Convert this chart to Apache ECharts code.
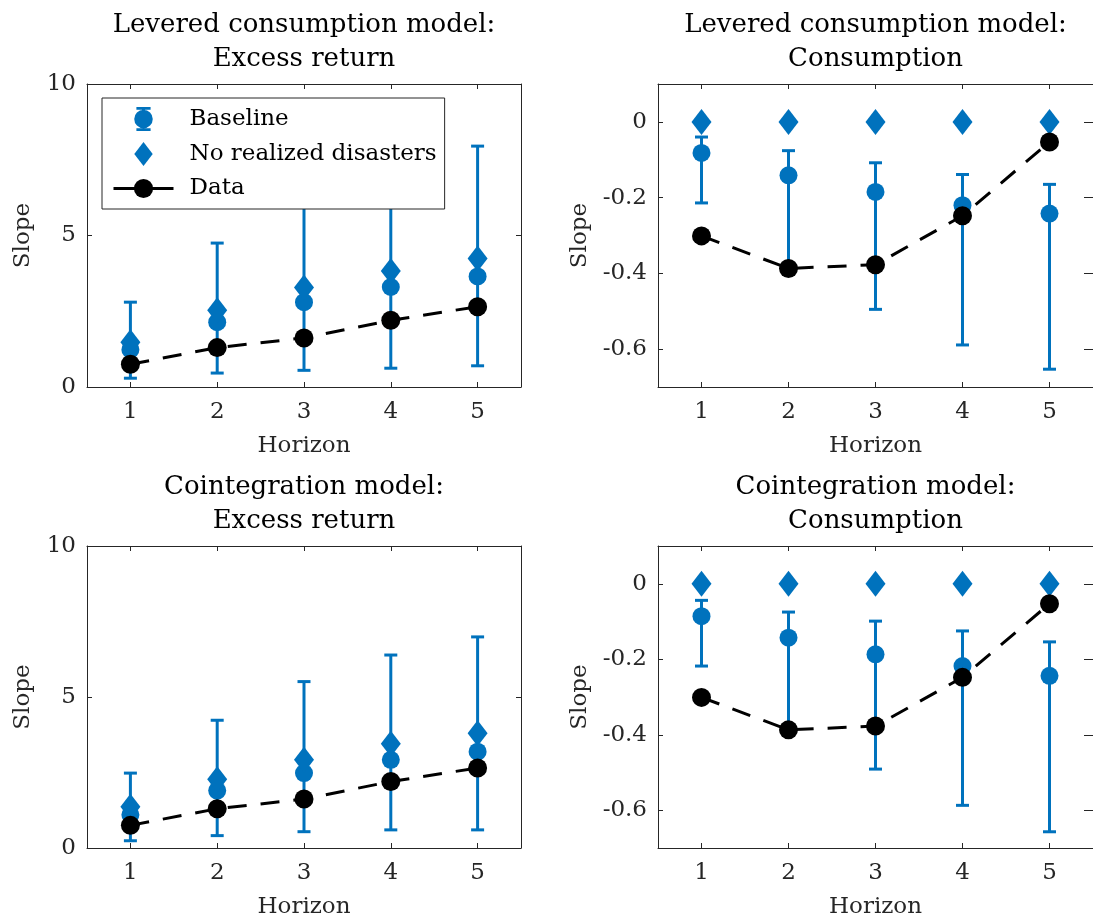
<!DOCTYPE html>
<html><head><meta charset="utf-8">
<script src="https://cdn.jsdelivr.net/npm/echarts@6/dist/echarts.min.js"></script>
<style>html,body{margin:0;padding:0;background:#fff}#c{width:1093px;height:924px}</style>
</head><body><div id="c"></div>
<script>
// ---------------- data ----------------
const horizons = ['1', '2', '3', '4', '5'];
const retRange = [0, 10];
const consRange = [-0.7, 0.1];

const dataRet = [0.75, 1.30, 1.62, 2.20, 2.65];
const dataCons = [-0.301, -0.387, -0.377, -0.248, -0.053];

// Levered consumption model: excess return
const levRetBase = [1.23, 2.14, 2.80, 3.30, 3.65];
const levRetLo = [0.29, 0.46, 0.55, 0.62, 0.70];
const levRetHi = [2.80, 4.75, 6.30, 7.20, 7.95];
const levRetNoDis = [1.48, 2.53, 3.28, 3.83, 4.24];

// Levered consumption model: consumption
const levConsBase = [-0.082, -0.141, -0.185, -0.220, -0.242];
const levConsLo = [-0.214, -0.390, -0.495, -0.589, -0.653];
const levConsHi = [-0.040, -0.076, -0.108, -0.139, -0.165];
const levConsNoDis = [0, 0, 0, 0, 0];

// Cointegration model: excess return
const coiRetBase = [1.10, 1.90, 2.48, 2.92, 3.19];
const coiRetLo = [0.24, 0.41, 0.54, 0.60, 0.60];
const coiRetHi = [2.48, 4.23, 5.51, 6.39, 6.99];
const coiRetNoDis = [1.37, 2.28, 2.92, 3.45, 3.80];

// Cointegration model: consumption
const coiConsBase = [-0.086, -0.143, -0.187, -0.218, -0.244];
const coiConsLo = [-0.218, -0.390, -0.491, -0.587, -0.657];
const coiConsHi = [-0.044, -0.075, -0.099, -0.125, -0.154];
const coiConsNoDis = [0, 0, 0, 0, 0];

const titles = [
  ['Levered consumption model:', 'Excess return'],
  ['Levered consumption model:', 'Consumption'],
  ['Cointegration model:', 'Excess return'],
  ['Cointegration model:', 'Consumption']
];

// ---------------- style / layout ----------------
const BLUE = '#0072BD';
const AX = '#262626';
const FONT = 'DejaVu Serif';
const FS = 23;
const TFS = 26;

const panels = [
  {left: 87, top: 84, width: 434, height: 303, kind: 'ret', base: levRetBase, lo: levRetLo, hi: levRetHi, nod: levRetNoDis, data: dataRet},
  {left: 658, top: 84, width: 435, height: 303, kind: 'cons', base: levConsBase, lo: levConsLo, hi: levConsHi, nod: levConsNoDis, data: dataCons},
  {left: 87, top: 546, width: 434, height: 302, kind: 'ret', base: coiRetBase, lo: coiRetLo, hi: coiRetHi, nod: coiRetNoDis, data: dataRet},
  {left: 658, top: 546, width: 435, height: 302, kind: 'cons', base: coiConsBase, lo: coiConsLo, hi: coiConsHi, nod: coiConsNoDis, data: dataCons}
];

function renderErr(params, api) {
  const x = api.value(0);
  const pLo = api.coord([x, api.value(1)]);
  const pHi = api.coord([x, api.value(2)]);
  const cw = 6.5;
  const st = {stroke: BLUE, lineWidth: 3, fill: null};
  return {type: 'group', children: [
    {type: 'line', shape: {x1: pLo[0], y1: pLo[1], x2: pHi[0], y2: pHi[1]}, style: st},
    {type: 'line', shape: {x1: pLo[0] - cw, y1: pLo[1], x2: pLo[0] + cw, y2: pLo[1]}, style: st},
    {type: 'line', shape: {x1: pHi[0] - cw, y1: pHi[1], x2: pHi[0] + cw, y2: pHi[1]}, style: st}
  ]};
}

const grid = [], xAxis = [], yAxis = [], series = [], graphic = [];
const axisLine = {show: true, onZero: false, lineStyle: {color: AX, width: 1}};
const axisTick = {show: true, inside: true, length: 5, lineStyle: {color: AX, width: 1}};
const labelStyle = {fontFamily: FONT, fontSize: FS, color: AX};

panels.forEach((p, g) => {
  grid.push({left: p.left, top: p.top, width: p.width, height: p.height, containLabel: false});
  xAxis.push({
    type: 'category', data: horizons, gridIndex: g, position: 'bottom', boundaryGap: true,
    axisLine, axisTick: Object.assign({alignWithLabel: true}, axisTick),
    axisLabel: Object.assign({margin: 14}, labelStyle),
    name: 'Horizon', nameLocation: 'middle', nameGap: 48,
    nameTextStyle: {fontFamily: FONT, fontSize: FS, color: AX},
    splitLine: {show: false}
  });
  xAxis.push({
    type: 'category', data: horizons, gridIndex: g, position: 'top', boundaryGap: true,
    axisLine, axisTick: Object.assign({alignWithLabel: true}, axisTick),
    axisLabel: {show: false}, splitLine: {show: false}
  });
  const yBase = p.kind === 'ret'
    ? {min: retRange[0], max: retRange[1], interval: 5}
    : {min: consRange[0], max: consRange[1], splitNumber: 4};
  yAxis.push(Object.assign({
    type: 'value', gridIndex: g, position: 'left',
    axisLine, axisTick,
    axisLabel: Object.assign({margin: 11, showMinLabel: p.kind === 'ret', showMaxLabel: p.kind === 'ret'}, labelStyle),
    name: 'Slope', nameLocation: 'middle', nameRotate: 90, nameGap: p.kind === 'ret' ? 52 : 66,
    nameTextStyle: {fontFamily: FONT, fontSize: FS, color: AX},
    splitLine: {show: false}
  }, yBase));
  yAxis.push(Object.assign({
    type: 'value', gridIndex: g, position: 'right',
    axisLine, axisTick: Object.assign({}, axisTick, {length: p.kind === 'cons' ? 9 : 5}),
    axisLabel: {show: false}, splitLine: {show: false}
  }, yBase));

  const xi = 2 * g, yi = 2 * g;
  series.push({
    type: 'scatter', name: 'Baseline', xAxisIndex: xi, yAxisIndex: yi,
    data: p.base, symbol: 'circle', symbolSize: 18, itemStyle: {color: BLUE, opacity: 1}, z: 2
  });
  series.push({
    type: 'custom', name: 'Baseline', xAxisIndex: xi, yAxisIndex: yi,
    data: horizons.map((h, i) => [i, p.lo[i], p.hi[i]]),
    encode: {x: 0, y: [1, 2]}, renderItem: renderErr, itemStyle: {color: BLUE}, z: 2
  });
  series.push({
    type: 'scatter', name: 'No realized disasters', xAxisIndex: xi, yAxisIndex: yi,
    data: p.nod, symbol: 'diamond', symbolSize: [20, 26], itemStyle: {color: BLUE, opacity: 1}, z: 3
  });
  series.push({
    type: 'line', name: 'Data', xAxisIndex: xi, yAxisIndex: yi,
    data: p.data, symbol: 'circle', symbolSize: 19, showSymbol: true,
    itemStyle: {color: '#000', borderWidth: 0},
    lineStyle: {color: '#000', width: 3, type: [19, 14]}, z: 4
  });

  const cx = p.left + p.width / 2;
  const ty = p.top - 59;
  graphic.push({type: 'text', x: cx, y: ty, style: {text: titles[g][0], align: 'center', verticalAlign: 'middle', fontFamily: FONT, fontSize: TFS, fill: '#000'}});
  graphic.push({type: 'text', x: cx, y: ty + 34, style: {text: titles[g][1], align: 'center', verticalAlign: 'middle', fontFamily: FONT, fontSize: TFS, fill: '#000'}});
});

const BASE_ICON = 'path://M-8.5,0A8.5,8.5 0 1,1 8.5,0A8.5,8.5 0 1,1 -8.5,0Z M-1.5,-11H1.5V11H-1.5Z M-6.5,-11H6.5V-8.5H-6.5Z M-6.5,8.5H6.5V11H-6.5Z';
const DIAMOND_ICON = 'path://M0,-13L10,0L0,13L-10,0Z';

const option = {
  animation: false,
  backgroundColor: '#fff',
  grid, xAxis, yAxis, series, graphic,
  legend: {
    data: [{name: 'Baseline', icon: BASE_ICON}, {name: 'No realized disasters', icon: DIAMOND_ICON}, {name: 'Data'}],
    orient: 'vertical', left: 102, top: 98, itemWidth: 60, itemHeight: 24, itemGap: 11,
    padding: [9, 8, 9, 10], borderColor: AX, borderWidth: 1, borderRadius: 0, backgroundColor: '#fff',
    selectedMode: false, symbolKeepAspect: true,
    textStyle: {fontFamily: FONT, fontSize: FS, color: '#000', padding: [0, 0, 0, 11]},
    lineStyle: {type: 'solid', width: 3, color: '#000'},
    z: 10
  }
};

const chart = echarts.init(document.getElementById('c'), null, {renderer: 'canvas'});
chart.setOption(option);
</script>
</body></html>
